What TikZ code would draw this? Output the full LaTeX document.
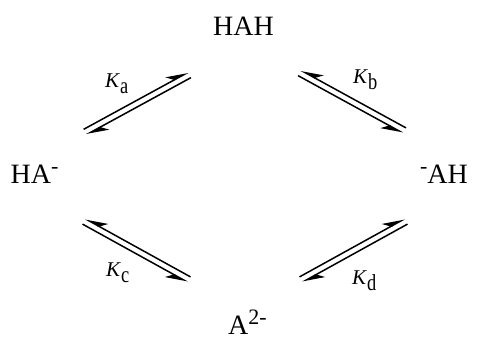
\documentclass[tikz,border=0pt]{standalone}
\usepackage{fontspec}
\setmainfont{Liberation Serif}
\newfontfamily\subfont[FakeStretch=0.8]{Liberation Serif}
\usetikzlibrary{arrows.meta,calc}
\newcommand\chsup[1]{\raisebox{10pt}{\fontsize{22}{24}\selectfont #1}}
\newcommand\ksub[1]{\raisebox{-6pt}{\subfont\fontsize{23}{24}\selectfont #1}}
% normal equilibrium arrow: forward line to #2 on its left, barb on left
\newcommand\eqarrow[2]{%
  \draw[eq] ($(#1)!3pt!90:(#2)$) -- ($(#2)!3pt!-90:(#1)$);
  \draw[eq] ($(#2)!3pt!90:(#1)$) -- ($(#1)!3pt!-90:(#2)$);}
% mirrored equilibrium arrow: forward line to #2 on its right, barb on right
\newcommand\eqarrowm[2]{%
  \draw[eqm] ($(#1)!3pt!-90:(#2)$) -- ($(#2)!3pt!90:(#1)$);
  \draw[eqm] ($(#2)!3pt!-90:(#1)$) -- ($(#1)!3pt!90:(#2)$);}
\begin{document}
\begin{tikzpicture}[x=1pt,y=-1pt,
  species/.style={inner sep=0pt, font=\fontsize{28}{32}\selectfont},
  klabel/.style={inner sep=0pt, font=\fontsize{21}{24}\selectfont, anchor=base west},
  eq/.style={line width=1.5pt, -{Stealth[harpoon,length=20pt,width=13pt]}},
  eqm/.style={line width=1.5pt, -{Stealth[harpoon,swap,length=20pt,width=13pt]}}
]
\useasboundingbox (0,0) rectangle (478,340);
\fill[white] (0,0) rectangle (478,340);
\node[species, anchor=base] (HAH) at (243.5,35) {HAH};
\node[species, anchor=base west] (HA) at (10.5,183) {HA\chsup{-}};
\node[species, anchor=base east] (AH) at (468,183) {\chsup{-}AH};
\node[species, anchor=base west] (A) at (228,334) {A\chsup{2-}};
% arrow end points
\coordinate (ka1) at (85,132);   \coordinate (ka2) at (189.5,75);
\coordinate (kb1) at (299.5,73); \coordinate (kb2) at (404.5,130.5);
\coordinate (kc1) at (84,221.5); \coordinate (kc2) at (189,279.5);
\coordinate (kd1) at (301,279.5); \coordinate (kd2) at (406,221.5);
\eqarrow{ka1}{ka2}
\eqarrowm{kb2}{kb1}
\eqarrowm{kc2}{kc1}
\eqarrow{kd1}{kd2}
\node[klabel] (la) at (105,87) {\textit{K}\ksub{a}};
\node[klabel] (lb) at (353,83) {\textit{K}\ksub{b}};
\node[klabel] (lc) at (106,276) {\textit{K}\ksub{c}};
\node[klabel] (ld) at (352,284) {\textit{K}\ksub{d}};
\end{tikzpicture}
\end{document}
